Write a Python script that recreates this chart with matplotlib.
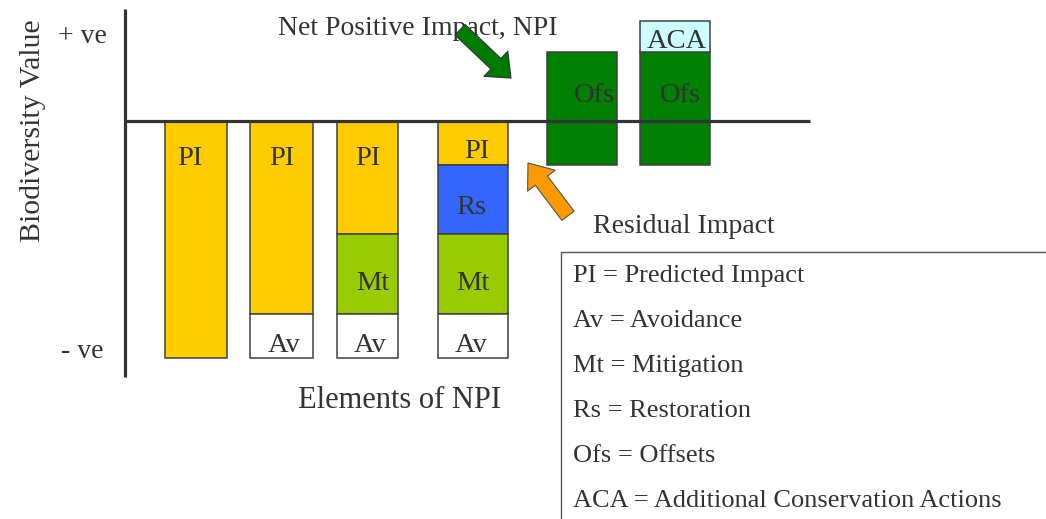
import matplotlib
matplotlib.use("Agg")
import matplotlib.pyplot as plt
from matplotlib.patches import FancyArrowPatch, Rectangle, ArrowStyle

plt.rcParams['font.family'] = ['Liberation Serif', 'DejaVu Serif']

# bars (x in pixel-like units, values in "biodiversity value", -1 = full predicted impact)
x_pos = [196, 281.5, 367, 473, 582, 674.5]
widths = [62, 63, 61, 70, 70, 70]
pi = [1.0, 0.815, 0.475, 0.185, 0, 0]
rs = [0, 0, 0, 0.29, 0, 0]
mt = [0, 0, 0.34, 0.34, 0, 0]
av = [0, 0.185, 0.185, 0.185, 0, 0]
ofs = [0, 0, 0, 0, 0.475, 0.475]
ofs_bottom = -0.185
aca = [0, 0, 0, 0, 0, 0.13]

legend_lines = ["PI = Predicted Impact", "Av = Avoidance", "Mt = Mitigation",
                "Rs = Restoration", "Ofs = Offsets",
                "ACA = Additional Conservation Actions"]

# segment labels: (text, x, baseline)
seg_labels = [("PI", 190, -0.186), ("PI", 282, -0.186), ("PI", 368, -0.186),
              ("PI", 477, -0.155), ("Rs", 471, -0.392),
              ("Mt", 373, -0.713), ("Mt", 473, -0.713),
              ("Av", 284.5, -0.975), ("Av", 370, -0.975), ("Av", 471.5, -0.975),
              ("Ofs", 594, 0.081), ("Ofs", 680, 0.081), ("ACA", 677, 0.307)]

c_pi, c_rs, c_mt, c_av = '#ffcc00', '#3366ff', '#99cc00', 'white'
c_ofs, c_aca = '#008000', '#ccffff'
edge = '#404040'
txt = '#333333'

fig = plt.figure(figsize=(10.46, 5.19), dpi=100)
ax = fig.add_axes([0, 0, 1, 1])
ax.set_xlim(0, 1046)
ax.set_ylim(-1.6793, 0.5105)
ax.axis('off')

def stack(vals, bottoms, color):
    for x, w, h, b in zip(x_pos, widths, vals, bottoms):
        if h > 0:
            ax.bar(x, h, width=w, bottom=b, color=color, edgecolor=edge, linewidth=1.1, zorder=2)

b_pi = [-p for p in pi]
b_rs = [-p - r for p, r in zip(pi, rs)]
b_mt = [-p - r - m for p, r, m in zip(pi, rs, mt)]
b_av = [-p - r - m - a for p, r, m, a in zip(pi, rs, mt, av)]
stack(pi, b_pi, c_pi)
stack(rs, b_rs, c_rs)
stack(mt, b_mt, c_mt)
stack(av, b_av, c_av)
stack(ofs, [ofs_bottom] * len(ofs), c_ofs)
stack(aca, [ofs_bottom + o for o in ofs], c_aca)

# axes lines
ax.plot([125, 125], [0.473, -1.08], color='#333333', lw=2.3, zorder=3, solid_capstyle='butt')
ax.plot([125, 810], [0, 0], color='#333333', lw=2.3, zorder=3, solid_capstyle='butt')

for s, x, y in seg_labels:
    ax.text(x, y, s, ha='center', va='baseline', fontsize=20.5, color=txt, zorder=4)

ax.text(58, 0.329, "+ ve", fontsize=20, color=txt, va='baseline')
ax.text(61, -1.0, "- ve", fontsize=20, color=txt, va='baseline')
ax.text(33, -0.04, "Biodiversity Value", rotation=90, fontsize=21.5, color=txt,
        ha='center', va='center')
ax.text(278, 0.363, "Net Positive Impact, NPI", fontsize=20, color=txt, va='baseline')
ax.text(593, -0.473, "Residual Impact", fontsize=20, color=txt, va='baseline')
ax.text(298, -1.211, "Elements of NPI", fontsize=22, color=txt, va='baseline')

# arrows
green = FancyArrowPatch((460, 0.385), (511, 0.181), mutation_scale=1,
                        arrowstyle=ArrowStyle.Simple(head_length=15, head_width=25, tail_width=10.5),
                        shrinkA=0, shrinkB=0, facecolor='#007a00', edgecolor='#333333', lw=0.8, zorder=5)
orange = FancyArrowPatch((568, -0.400), (528, -0.177), mutation_scale=1,
                         arrowstyle=ArrowStyle.Simple(head_length=16, head_width=25, tail_width=11),
                         shrinkA=0, shrinkB=0, facecolor='#ff9900', edgecolor='#555555', lw=0.8, zorder=5)
ax.add_patch(green)
ax.add_patch(orange)

# legend box
ax.add_patch(Rectangle((561, -2.0), 600, 2.0 - 0.553, facecolor='white',
                       edgecolor='#555555', lw=1.0, zorder=1))
for i, line in enumerate(legend_lines):
    ax.text(573, -0.678 - 0.19 * i, line, fontsize=19, color=txt, va='baseline', zorder=4)

fig.savefig("out.png", dpi=100)
